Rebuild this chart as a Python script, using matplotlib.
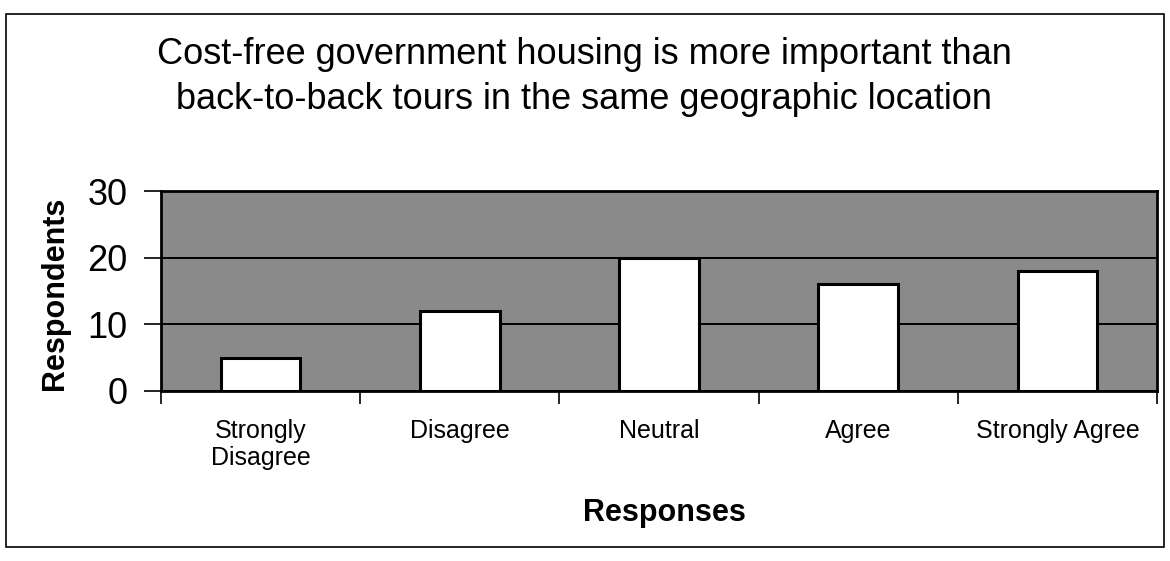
import matplotlib
matplotlib.use("Agg")
import matplotlib.pyplot as plt
from matplotlib.patches import Rectangle

plt.rcParams['font.family'] = ['Liberation Sans', 'DejaVu Sans']

title = "Cost-free government housing is more important than\nback-to-back tours in the same geographic location"
categories = ["Strongly\nDisagree", "Disagree", "Neutral", "Agree", "Strongly Agree"]
values = [5, 12, 20, 16, 18]
yticks = [0, 10, 20, 30]
xlabel = "Responses"
ylabel = "Respondents"

fig = plt.figure(figsize=(11.70, 5.61), dpi=100)
W, H = 1170, 561

# outer chart border
fig.patches.append(Rectangle((6 / W, 1 - 547 / H), (1164 - 6) / W, (547 - 14) / H,
                             transform=fig.transFigure, fill=False,
                             edgecolor='black', linewidth=1.2))

ax = fig.add_axes([161 / W, 1 - 391 / H, (1157 - 161) / W, (391 - 191) / H])
ax.set_facecolor('#8a8a8a')

x = list(range(len(categories)))
ax.bar(x, values, width=0.4, color='white', edgecolor='black', linewidth=2.2, zorder=3)

ax.set_xlim(-0.5, len(categories) - 0.5)
ax.set_ylim(0, 30)
ax.set_yticks(yticks)
ax.set_yticklabels([str(t) for t in yticks], fontsize=26)
ax.yaxis.grid(True, color='black', linewidth=1.4, zorder=1)
ax.set_axisbelow(True)

ax.set_xticks([i - 0.5 for i in range(len(categories) + 1)])
ax.set_xticklabels([])
ax.set_xticks(x, minor=True)
ax.set_xticklabels(categories, minor=True, fontsize=18, va='top', linespacing=1.15)
ax.tick_params(axis='x', which='minor', length=0, pad=20)
ax.tick_params(axis='x', which='major', length=9, width=1.2, direction='out')
ax.tick_params(axis='y', length=12, width=1.2, direction='out', pad=12)

for s in ax.spines.values():
    s.set_linewidth(2.0)
    s.set_color('black')

fig.text(0.5 - 0.5 / W, 1 - 77 / H, title, ha='center', va='center', fontsize=26, linespacing=1.35)
fig.text(55 / W, 1 - 293 / H, ylabel, rotation=90, ha='center', va='center',
         fontsize=22, fontweight='bold')
fig.text(664 / W, 1 - 513 / H, xlabel, ha='center', va='center',
         fontsize=22, fontweight='bold')

fig.savefig('out.png', dpi=100)
